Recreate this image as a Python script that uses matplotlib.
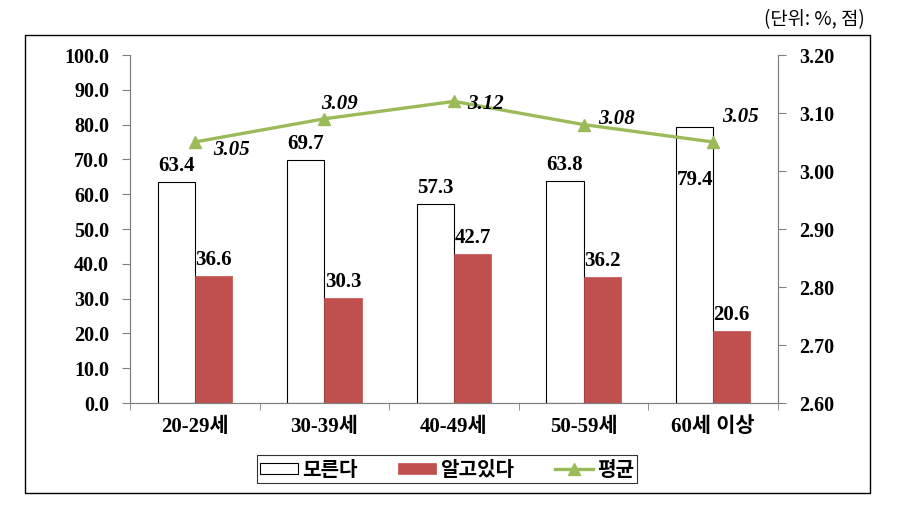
import matplotlib
matplotlib.use("Agg")

import matplotlib.pyplot as plt
import numpy as np
from matplotlib.patches import Rectangle

# data
age_groups = ["20-29세", "30-39세", "40-49세", "50-59세", "60세 이상"]
dont_know = [63.4, 69.7, 57.3, 63.8, 79.4]
know = [36.6, 30.3, 42.7, 36.2, 20.6]
avg_score = [3.05, 3.09, 3.12, 3.08, 3.05]
left_ticks = [0, 10, 20, 30, 40, 50, 60, 70, 80, 90, 100]
right_ticks = [2.60, 2.70, 2.80, 2.90, 3.00, 3.10, 3.20]

SERIF = ["Liberation Serif", "Noto Sans CJK KR"]
GOTHIC = ["Noto Sans CJK KR", "DejaVu Sans"]
RED = "#C0504D"
GREEN = "#9BBB59"
GRAY = "#808080"

fig = plt.figure(figsize=(8.98, 5.11), dpi=100)
W, H = 898, 511


def px_axes(x0, y0, x1, y1):
    return [x0 / W, 1 - y1 / H, (x1 - x0) / W, (y1 - y0) / H]


ax = fig.add_axes(px_axes(130, 55, 778, 403))
ax2 = ax.twinx()

x = np.arange(len(age_groups))
bw = 0.287
ax.bar(x - bw / 2, dont_know, bw, color="white", edgecolor="black", linewidth=0.8, label="모른다", zorder=2)
ax.bar(x + bw / 2, know, bw, color=RED, edgecolor=RED, linewidth=0.5, label="알고있다", zorder=2)
ax2.plot(x, avg_score, color=GREEN, linewidth=2.4, marker="^", markersize=8, label="평균", zorder=3)

ax.set_xlim(-0.5, len(age_groups) - 0.5)
ax.set_ylim(0, 100)
ax2.set_ylim(2.60, 3.20)
ax.set_yticks(left_ticks)
ax.set_yticklabels([f"{v:.1f}" for v in left_ticks], fontfamily=SERIF, fontweight="bold", fontsize=14.5)
ax2.set_yticks(right_ticks)
ax2.set_yticklabels([f"{v:.2f}" for v in right_ticks], fontfamily=SERIF, fontweight="bold", fontsize=14.5)
ax.set_xticks(x)
ax.set_xticklabels(age_groups, fontfamily=SERIF, fontweight="bold", fontsize=15)
ax.set_xticks(np.arange(len(age_groups) + 1) - 0.5, minor=True)

for a in (ax, ax2):
    a.spines["top"].set_visible(False)
    for side in ("left", "right", "bottom"):
        a.spines[side].set_color(GRAY)
    a.tick_params(axis="y", length=6, color=GRAY, pad=9)
ax.tick_params(axis="x", which="major", length=0, pad=10)
ax.tick_params(axis="x", which="minor", length=5, color=GRAY)
ax.patch.set_visible(False)
ax.set_zorder(ax2.get_zorder() - 1)
ax2.patch.set_visible(False)

# data labels
lab = dict(fontfamily=SERIF, fontweight="bold", fontsize=15, ha="center", va="center")
for i, v in enumerate(dont_know):
    if i == 4:
        ax.text(i - bw / 2, v - 15.2, f"{v:.1f}", **lab)
    else:
        ax.text(i - bw / 2, v + 4.6, f"{v:.1f}", **lab)
for i, v in enumerate(know):
    ax.text(i + bw / 2, v + 4.6, f"{v:.1f}", **lab)

avg_offsets = [(0.285, -0.014), (0.116, 0.026), (0.247, -0.004), (0.255, 0.009), (0.208, 0.043)]
for i, v in enumerate(avg_score):
    dx, dy = avg_offsets[i]
    ax2.text(i + dx, v + dy, f"{v:.2f}", fontfamily=SERIF, fontweight="bold", fontstyle="italic",
             fontsize=15, ha="center", va="center")

# legend
handles = ax.get_legend_handles_labels()[0] + ax2.get_legend_handles_labels()[0]
labels = ax.get_legend_handles_labels()[1] + ax2.get_legend_handles_labels()[1]
leg = fig.legend(handles, labels, loc="center", bbox_to_anchor=(447 / W, 1 - 469 / H), ncol=3,
                 frameon=True, fancybox=False, edgecolor="black", handlelength=1.9, handleheight=0.5,
                 columnspacing=2.0, handletextpad=0.2, borderpad=0.15,
                 prop={"family": GOTHIC, "weight": "bold", "size": 14.5})
leg.get_frame().set_linewidth(0.8)

# outer frame and unit note
fig.patches.append(Rectangle((25 / W, 1 - 493 / H), 845 / W, 458 / H, transform=fig.transFigure,
                             fill=False, edgecolor="black", linewidth=1.0))
fig.text(865 / W, 1 - 20 / H, "(단위: %, 점)", fontfamily=GOTHIC, fontsize=13.5, ha="right", va="center")

fig.savefig("out.png", dpi=100)
